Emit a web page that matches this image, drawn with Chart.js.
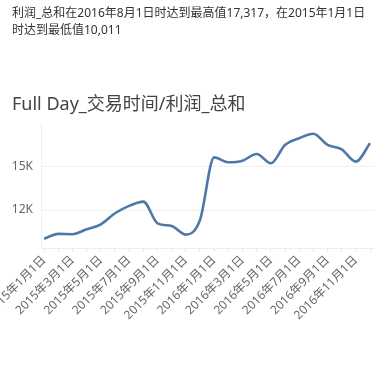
<!DOCTYPE html>
<html>
<head>
<meta charset="utf-8">
<script src="https://cdn.jsdelivr.net/npm/chart.js@4"></script>
<style>
  html, body { margin: 0; padding: 0; background: #fff; }
  body { width: 386px; height: 372px; position: relative; overflow: hidden;
         font-family: "Noto Sans", "Noto Sans CJK SC", sans-serif; }
  #summary { position: absolute; left: 12px; top: 5px; font-size: 12px; line-height: 16.5px; color: #333; z-index: 2; }
  #title { position: absolute; left: 12px; top: 89px; font-size: 18px; color: #444; z-index: 2; white-space: nowrap; }
  #wrap { position: absolute; left: 0; top: 0; width: 386px; height: 372px; }
</style>
</head>
<body>
<div id="summary">利润_总和在2016年8月1日时达到最高值17,317，在2015年1月1日<br>时达到最低值10,011</div>
<div id="title">Full Day_交易时间/利润_总和</div>
<div id="wrap"><canvas id="c" width="386" height="372"></canvas></div>
<script>
const categories = [
  "2015年1月1日","2015年2月1日","2015年3月1日","2015年4月1日","2015年5月1日","2015年6月1日",
  "2015年7月1日","2015年8月1日","2015年9月1日","2015年10月1日","2015年11月1日","2015年12月1日",
  "2016年1月1日","2016年2月1日","2016年3月1日","2016年4月1日","2016年5月1日","2016年6月1日",
  "2016年7月1日","2016年8月1日","2016年9月1日","2016年10月1日","2016年11月1日","2016年12月1日"
];
const profitSum = [
  10011, 10340, 10320, 10660, 11010, 11780,
  12290, 12590, 11080, 10890, 10290, 11310,
  15670, 15330, 15440, 15900, 15260, 16530,
  17000, 17317, 16530, 16230, 15370, 16650
];
const yTicks = [12000, 15000];

const points = profitSum.map((v, i) => ({ x: i, y: v }));

new Chart(document.getElementById('c'), {
  type: 'line',
  data: {
    datasets: [{
      data: points,
      borderColor: '#4e79a7',
      borderWidth: 2.6,
      pointRadius: 0,
      pointHoverRadius: 0,
      fill: false,
      cubicInterpolationMode: 'monotone'
    }]
  },
  options: {
    responsive: false,
    animation: false,
    events: [],
    layout: { padding: { top: 123, right: 12, left: 0, bottom: 0 } },
    plugins: { legend: { display: false }, tooltip: { enabled: false }, title: { display: false } },
    scales: {
      x: {
        type: 'linear',
        min: -0.22,
        max: 23.28,
        afterBuildTicks: s => { s.ticks = categories.map((c, i) => ({ value: i })); },
        afterFit: s => { s.height = 124; s.paddingLeft = 0; s.paddingRight = 0; },
        ticks: {
          autoSkip: false,
          minRotation: 45,
          maxRotation: 45,
          padding: 1,
          color: '#666',
          font: { family: '"Noto Sans", "Noto Sans CJK SC", sans-serif', size: 12 },
          callback: (v) => (Math.round(v) % 2 === 0 ? categories[Math.round(v)] : '')
        },
        grid: { drawOnChartArea: false, drawTicks: true, tickLength: 4, color: '#e6e6e6' },
        border: { display: true, color: '#eeeeee' }
      },
      y: {
        min: 9360,
        max: 18060,
        afterBuildTicks: s => { s.ticks = yTicks.map(v => ({ value: v })); },
        afterFit: s => { s.width = 41; },
        ticks: {
          padding: 8,
          color: '#666',
          font: { family: '"Noto Sans", "Noto Sans CJK SC", sans-serif', size: 12 },
          callback: v => (v / 1000) + 'K'
        },
        grid: { drawTicks: false, color: '#f0f0f0', lineWidth: 1 },
        border: { display: true, color: '#f0f0f0' }
      }
    }
  }
});
</script>
</body>
</html>
